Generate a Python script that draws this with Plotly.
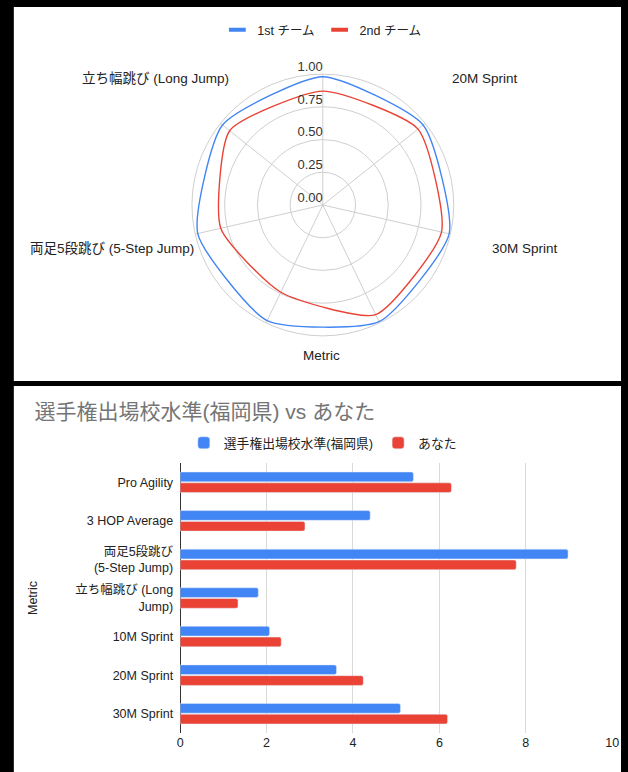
import plotly.graph_objects as go

FONT = "Liberation Sans, Arial, Noto Sans CJK JP, sans-serif"
W, H = 628, 772

# ---------------- data ----------------
radar_categories = ["10M Sprint", "20M Sprint", "30M Sprint", "Pro Agility",
                    "3 HOP Average", "両足5段跳び (5-Step Jump)", "立ち幅跳び (Long Jump)"]
radar_team1 = [0.98, 0.98, 0.99, 0.99, 0.98, 0.98, 0.98]
radar_team2 = [0.87, 0.93, 0.93, 0.93, 0.74, 0.80, 0.91]
radar_series_names = ["1st チーム", "2nd チーム"]
radial_ticks = [0, 0.25, 0.5, 0.75, 1.0]
radial_tick_labels = ["0.00", "0.25", "0.50", "0.75", "1.00"]
radar_visible_labels = ["立ち幅跳び (Long Jump)", "20M Sprint", "30M Sprint",
                        "Metric", "両足5段跳び (5-Step Jump)"]

bar_categories = ["Pro Agility", "3 HOP Average", "両足5段跳び<br>(5-Step Jump)",
                  "立ち幅跳び (Long<br>Jump)", "10M Sprint", "20M Sprint", "30M Sprint"]
bar_standard = [5.40, 4.40, 8.98, 1.81, 2.07, 3.62, 5.10]
bar_you = [6.28, 2.89, 7.78, 1.34, 2.34, 4.24, 6.19]
bar_series_names = ["選手権出場校水準(福岡県)", "あなた"]
bar_title = "選手権出場校水準(福岡県) vs あなた"
bar_axis_title = "Metric"

BLUE = "#4285F4"
RED = "#EA4335"
TXT = "#222222"

def px(x):
    return min(x / W, 1.0)

def py(y):
    return 1 - y / H

fig = go.Figure()

for vals, name, col in [(radar_team1, radar_series_names[0], BLUE),
                        (radar_team2, radar_series_names[1], RED)]:
    fig.add_trace(go.Scatterpolar(
        r=vals + vals[:1], theta=radar_categories + radar_categories[:1],
        mode="lines", line=dict(color=col, width=1.4, shape="spline", smoothing=0.55),
        name=name, showlegend=False, hoverinfo="skip"))
    fig.add_trace(go.Scatterpolar(
        r=[None], theta=[radar_categories[0]], mode="markers",
        marker=dict(symbol="line-ew", size=12, color=col, line=dict(width=4, color=col)),
        name=name, legend="legend"))

fig.add_trace(go.Scatterpolar(
    r=radial_ticks, theta=[radar_categories[0]] * len(radial_ticks),
    mode="text", text=radial_tick_labels, textposition="top left",
    textfont=dict(family=FONT, size=13, color="#333333"),
    showlegend=False, hoverinfo="skip"))

fig.add_trace(go.Bar(y=bar_categories, x=bar_standard, orientation="h",
                     name=bar_series_names[0], marker=dict(color=BLUE, cornerradius=2),
                     legend="legend2", xaxis="x", yaxis="y"))
fig.add_trace(go.Bar(y=bar_categories, x=bar_you, orientation="h",
                     name=bar_series_names[1], marker=dict(color=RED, cornerradius=2),
                     legend="legend2", xaxis="x", yaxis="y"))

label_pos = [(155, 78), (490, 78), (530, 248), (324, 355), (111, 248)]
annotations = []
for txt, (x, y) in zip(radar_visible_labels, label_pos):
    annotations.append(dict(text=txt, x=px(x), y=py(y), xref="paper", yref="paper",
                            showarrow=False, xanchor="center", yanchor="middle",
                            font=dict(family=FONT, size=13.5, color=TXT)))

shapes = [
    dict(type="rect", xref="paper", yref="paper", x0=px(11), x1=1, y0=py(381), y1=py(7),
         fillcolor="white", line=dict(width=0), layer="below"),
    dict(type="rect", xref="paper", yref="paper", x0=px(11), x1=1, y0=0, y1=py(386),
         fillcolor="white", line=dict(width=0), layer="below"),
]

cx, cy, R = 325, 205, 133
fig.update_layout(
    width=W, height=H, autosize=False,
    margin=dict(l=0, r=0, t=0, b=0),
    paper_bgcolor="black", plot_bgcolor="white",
    font=dict(family=FONT, size=12.5, color=TXT),
    shapes=shapes, annotations=annotations,
    polar=dict(
        domain=dict(x=[px(cx - R), px(cx + R)], y=[py(cy + R), py(cy - R)]),
        bgcolor="white",
        radialaxis=dict(range=[0, 1], tickvals=radial_ticks, showticklabels=False,
                        showline=False, ticks="", gridcolor="#cfcfcf", gridwidth=1,
                        angle=90),
        angularaxis=dict(direction="clockwise", rotation=90, showticklabels=False,
                         ticks="", linecolor="#cfcfcf", linewidth=1,
                         gridcolor="#cfcfcf", gridwidth=1),
    ),
    legend=dict(orientation="h", x=px(324), y=py(30), xanchor="center", yanchor="middle",
                bgcolor="rgba(0,0,0,0)", font=dict(family=FONT, size=12.5, color=TXT),
                itemwidth=30, traceorder="normal"),
    legend2=dict(orientation="h", x=px(325), y=py(443), xanchor="center", yanchor="middle",
                 bgcolor="rgba(0,0,0,0)", font=dict(family=FONT, size=12.8, color=TXT),
                 traceorder="normal"),
    title=dict(text=bar_title, x=px(32), xanchor="left", y=py(412), yanchor="middle",
               xref="paper", yref="paper",
               font=dict(family=FONT, size=21, color="#757575")),
    barmode="group", bargap=0.44, bargroupgap=0.1,
    xaxis=dict(domain=[px(180), px(619)], range=[0, 10], dtick=2, showgrid=True,
               gridcolor="#d9d9d9", zeroline=True, zerolinecolor="#333333", zerolinewidth=1,
               ticks="", tickfont=dict(family=FONT, size=12.5, color=TXT),
               anchor="y", fixedrange=True),
    yaxis=dict(domain=[py(733), py(463)], autorange="reversed", showgrid=False,
               ticks="", ticklabelstandoff=6,
               tickfont=dict(family=FONT, size=12.5, color=TXT),
               title=dict(text=bar_axis_title, standoff=34,
                          font=dict(family=FONT, size=12.5, color=TXT)),
               anchor="x"),
)

# page: no margin; any strip outside the figure continues the white panels
PAGE_BG = ("linear-gradient(to bottom,#000 0,#000 7px,#fff 7px,#fff 381px,"
           "#000 381px,#000 386px,#fff 386px,#fff 100%)")
fig.write_html(
    "out.html",
    config={"displayModeBar": False, "responsive": False},
    post_script=("document.documentElement.style.overflow='hidden';"
                 "document.body.style.margin='0';"
                 "document.documentElement.style.background='" + PAGE_BG + "';"
                 "document.body.style.background='" + PAGE_BG + "';"),
)
